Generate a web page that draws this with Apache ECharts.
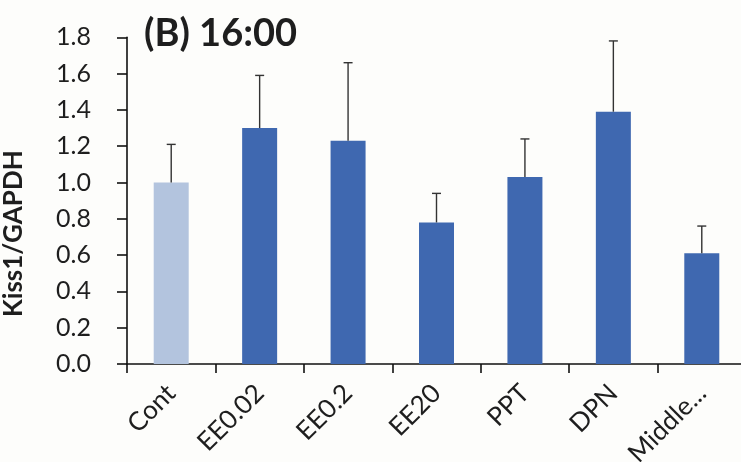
<!DOCTYPE html>
<html>
<head>
<meta charset="utf-8">
<script src="https://cdn.jsdelivr.net/npm/echarts@6/dist/echarts.min.js"></script>
<style>
  html, body { margin: 0; padding: 0; background: #fdfdfb; }
  #chart { width: 741px; height: 462px; }
</style>
</head>
<body>
<div id="chart"></div>
<script>
// Kiss1 expression relative to GAPDH at 16:00
const categories = ['Cont', 'EE0.02', 'EE0.2', 'EE20', 'PPT', 'DPN', 'Middle...'];
const means = [1.00, 1.30, 1.23, 0.78, 1.03, 1.39, 0.61];
const errors = [0.21, 0.29, 0.43, 0.16, 0.21, 0.39, 0.15];
const yTicks = [0, 0.2, 0.4, 0.6, 0.8, 1.0, 1.2, 1.4, 1.6, 1.8];

const FONT = 'Lato, "Open Sans", sans-serif';
const TEXT = '#1e1e1e';
const controlColor = '#b3c4de';
const groupColor = '#3f68b0';

const chart = echarts.init(document.getElementById('chart'), null, { renderer: 'canvas' });

chart.setOption({
  backgroundColor: '#fdfdfb',
  animation: false,
  title: {
    text: '(B) 16:00',
    left: 139,
    top: 10,
    textStyle: { fontFamily: FONT, fontWeight: 'bold', fontSize: 38, color: TEXT }
  },
  grid: {
    left: 127, top: 37.3, bottom: 98, right: -5,
    containLabel: false,
    outerBoundsMode: 'none'
  },
  xAxis: {
    type: 'category',
    data: categories,
    axisLine: { lineStyle: { color: '#111', width: 1.6 } },
    axisTick: { show: true, length: 9, lineStyle: { color: '#111', width: 1.6 } },
    axisLabel: {
      interval: 0,
      rotate: 45,
      margin: 25,
      fontFamily: FONT,
      fontSize: 26,
      color: TEXT
    }
  },
  yAxis: {
    type: 'value',
    min: 0,
    max: 1.8,
    interval: 0.2,
    name: 'Kiss1/GAPDH',
    nameLocation: 'middle',
    nameGap: 100,
    nameRotate: 90,
    nameTextStyle: {
      fontFamily: FONT, fontWeight: 'bold', fontSize: 26, color: TEXT,
      padding: [0, 66, 0, 0]
    },
    splitLine: { show: false },
    axisLine: { show: true, lineStyle: { color: '#111', width: 1.6 } },
    axisTick: { show: true, length: 10, lineStyle: { color: '#111', width: 1.6 } },
    axisLabel: {
      margin: 36,
      fontFamily: FONT,
      fontSize: 25,
      color: TEXT,
      formatter: v => yTicks.includes(Math.round(v * 10) / 10) ? v.toFixed(1) : ''
    }
  },
  series: [
    {
      type: 'bar',
      barWidth: 35,
      data: means.map((v, i) => ({
        value: v,
        itemStyle: { color: i === 0 ? controlColor : groupColor }
      })),
      z: 2
    },
    {
      type: 'custom',
      z: 3,
      data: means.map((v, i) => [i, v, v + errors[i]]),
      renderItem: (params, api) => {
        const base = api.coord([api.value(0), api.value(1)]);
        const top = api.coord([api.value(0), api.value(2)]);
        const half = 4.5;
        const style = { stroke: '#333', lineWidth: 1.4 };
        return {
          type: 'group',
          children: [
            { type: 'line', shape: { x1: base[0], y1: base[1], x2: top[0], y2: top[1] }, style },
            { type: 'line', shape: { x1: top[0] - half, y1: top[1], x2: top[0] + half, y2: top[1] }, style }
          ]
        };
      }
    }
  ]
});
</script>
</body>
</html>
